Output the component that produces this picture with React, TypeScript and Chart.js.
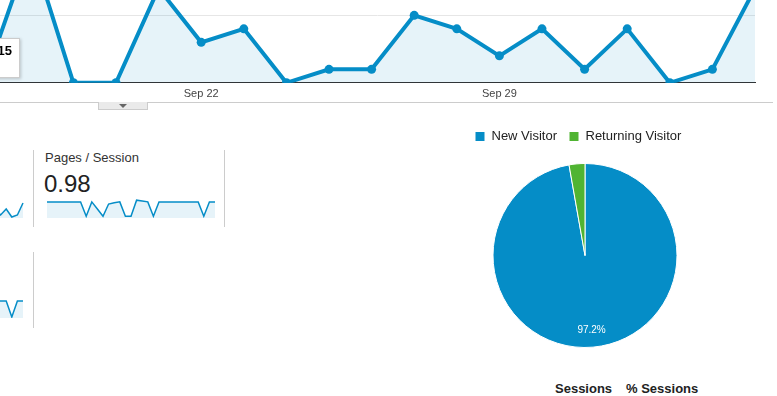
import React, { useEffect, useRef } from 'react';
import { Chart, registerables } from 'chart.js';

Chart.register(...registerables);

const FONT = "Arial, 'Liberation Sans', sans-serif";
const BLUE = '#058dc7';
const AREA = 'rgba(5,141,199,0.1)';
const GREEN = '#50b432';

// Main chart: sessions per day (Sep 17 – Oct 5, 2015)
const sessionDates = ['Sep 17', 'Sep 18', 'Sep 19', 'Sep 20', 'Sep 21', 'Sep 22', 'Sep 23', 'Sep 24', 'Sep 25', 'Sep 26', 'Sep 27', 'Sep 28', 'Sep 29', 'Sep 30', 'Oct 1', 'Oct 2', 'Oct 3', 'Oct 4', 'Oct 5'];
const sessionValues = [1, 10, 0, 0, 7, 3, 4, 0, 1, 1, 5, 4, 2, 4, 1, 4, 0, 1, 7];
const axisTickIndices = [5, 12];
const axisTickLabels = ['Sep 22', 'Sep 29'];
const gridValues = [0, 5];

// Pages / Session sparkline (Sep 5 – Oct 5)
const pagesPerSession = [1, 1, 1, 1, 1, 1, 1, 0, 1, 0.5, 0, 0.85, 0.94, 1, 0, 0, 1.12, 1.06, 1, 0, 1, 1, 1, 1, 1, 1, 1, 1, 0, 1, 1];
// tails of the neighbouring sparklines (Sep 30 – Oct 5)
const sessionsSparkTail = [4, 1, 4, 0, 1, 7];
const secondRowSparkTail = [1, 1, 1, 0, 1, 1];

// Pie
const visitorTypes = ['New Visitor', 'Returning Visitor'];
const visitorSessions = [35, 1];
const visitorColors = [BLUE, GREEN];

type SparkProps = {
  values: number[];
  left: number; top: number; width: number; height: number;
  xMin: number; xMax: number; yMin: number; yMax: number;
  pad?: { left: number; right: number; top: number; bottom: number };
};

function Spark(p: SparkProps) {
  const ref = useRef<HTMLCanvasElement>(null);
  useEffect(() => {
    const chart = new Chart(ref.current!, {
      type: 'line',
      data: {
        datasets: [{
          data: p.values.map((v, i) => ({ x: i, y: v })),
          borderColor: BLUE,
          borderWidth: 1.5,
          backgroundColor: AREA,
          fill: 'start',
          pointRadius: 0,
          tension: 0,
          clip: 3,
        }],
      },
      options: {
        animation: false,
        responsive: false,
        events: [],
        layout: { padding: p.pad || 0, autoPadding: false },
        plugins: { legend: { display: false }, tooltip: { enabled: false } },
        scales: {
          x: { type: 'linear', display: false, min: p.xMin, max: p.xMax },
          y: { display: false, min: p.yMin, max: p.yMax },
        },
      },
    });
    return () => chart.destroy();
  }, []);
  return (
    <canvas ref={ref} width={p.width} height={p.height}
      style={{ position: 'absolute', left: p.left, top: p.top, width: p.width, height: p.height }} />
  );
}

function MainChart() {
  const ref = useRef<HTMLCanvasElement>(null);
  useEffect(() => {
    const chart = new Chart(ref.current!, {
      type: 'line',
      data: {
        labels: sessionDates,
        datasets: [{
          label: 'Sessions',
          data: sessionValues.map((v, i) => ({ x: i, y: v })),
          borderColor: BLUE,
          borderWidth: 4,
          backgroundColor: AREA,
          fill: 'origin',
          pointRadius: 4.5,
          pointBorderWidth: 0,
          pointBackgroundColor: BLUE,
          tension: 0,
        }],
      },
      options: {
        animation: false,
        responsive: false,
        events: [],
        layout: { padding: { left: 0, right: 22, top: 0, bottom: 0 }, autoPadding: false },
        plugins: { legend: { display: false }, tooltip: { enabled: false } },
        scales: {
          x: {
            type: 'linear',
            min: 0.277,
            max: 18,
            afterBuildTicks: (s: any) => { s.ticks = axisTickIndices.map((v) => ({ value: v })); },
            grid: { display: false, drawTicks: false },
            border: { display: true, color: '#333', width: 1 },
            ticks: {
              autoSkip: false,
              maxRotation: 0,
              padding: 5,
              color: '#444',
              font: { family: FONT, size: 11 },
              callback: (v: any) => {
                const k = axisTickIndices.indexOf(Number(v));
                return k >= 0 ? axisTickLabels[k] : '';
              },
            },
          },
          y: {
            min: 0,
            max: 6.14,
            afterBuildTicks: (s: any) => { s.ticks = gridValues.map((v) => ({ value: v })); },
            grid: { color: '#e6e6e6', drawTicks: false },
            border: { display: false },
            ticks: { display: false },
          },
        },
      },
    });
    return () => chart.destroy();
  }, []);
  return <canvas ref={ref} width={777} height={106}
    style={{ position: 'absolute', left: 0, top: 0, width: 777, height: 106 }} />;
}

const pieLabelPlugin = {
  id: 'pieLabels',
  afterDatasetsDraw(chart: any) {
    const meta = chart.getDatasetMeta(0);
    const vals: number[] = chart.data.datasets[0].data;
    const total = vals.reduce((a, b) => a + b, 0);
    const ctx = chart.ctx;
    ctx.save();
    ctx.fillStyle = '#fff';
    ctx.font = `10px ${FONT}`;
    ctx.textAlign = 'center';
    ctx.textBaseline = 'middle';
    meta.data.forEach((arc: any, i: number) => {
      const pct = (vals[i] / total) * 100;
      if (pct < 5) return;
      const { x, y, startAngle, endAngle, outerRadius } = arc.getProps(['x', 'y', 'startAngle', 'endAngle', 'outerRadius'], true);
      const mid = (startAngle + endAngle) / 2;
      const r = outerRadius * 0.82;
      ctx.fillText(pct.toFixed(1) + '%', x + Math.cos(mid) * r, y + Math.sin(mid) * r);
    });
    ctx.restore();
  },
};

function PieChart() {
  const ref = useRef<HTMLCanvasElement>(null);
  useEffect(() => {
    const chart = new Chart(ref.current!, {
      type: 'pie',
      data: {
        labels: visitorTypes,
        datasets: [{
          data: visitorSessions,
          backgroundColor: visitorColors,
          borderColor: '#fff',
          borderWidth: 1,
          radius: 92,
        } as any],
      },
      options: {
        animation: false,
        responsive: false,
        events: [],
        plugins: {
          tooltip: { enabled: false },
          legend: {
            position: 'top',
            align: 'start',
            labels: {
              boxWidth: 10,
              boxHeight: 10,
              padding: 12,
              color: '#222',
              font: { family: FONT, size: 13 },
            },
          },
        },
      },
      plugins: [pieLabelPlugin],
    });
    return () => chart.destroy();
  }, []);
  // legend height = 13 + 12 + 10 = 35; chart area 153..357 centred on 255
  return <canvas ref={ref} width={244} height={240}
    style={{ position: 'absolute', left: 463, top: 118, width: 244, height: 240 }} />;
}

const abs = (s: React.CSSProperties): React.CSSProperties => ({ position: 'absolute', ...s });

export default function App() {
  return (
    <div style={abs({ left: 0, top: 0, width: 777, height: 396, overflow: 'hidden', background: '#fff', fontFamily: FONT })}>
      <MainChart />
      {/* tooltip remnant */}
      <div style={abs({
        left: -200, top: 38, width: 220, height: 40, background: '#fff', border: '1px solid #ccc',
        boxShadow: '1px 1px 3px rgba(0,0,0,0.2)', boxSizing: 'border-box', textAlign: 'right', paddingRight: 7,
        paddingTop: 4, font: `bold 13px ${FONT}`, color: '#000', whiteSpace: 'nowrap', lineHeight: '15px',
      })}>Thursday, September 17, 2015</div>
      {/* divider and tab */}
      <div style={abs({ left: 0, top: 102, width: 773, height: 1, background: '#ccc' })} />
      <div style={abs({
        left: 98, top: 102, width: 50, height: 8, background: '#eaeaea', border: '1px solid #ccc', borderTop: 'none',
        boxSizing: 'border-box',
      })} />
      <div style={abs({ left: 119, top: 104, width: 0, height: 0, borderLeft: '4px solid transparent', borderRight: '4px solid transparent', borderTop: '4px solid #666' })} />

      {/* metric separators */}
      <div style={abs({ left: 33, top: 150, width: 1, height: 77, background: '#ccc' })} />
      <div style={abs({ left: 224, top: 150, width: 1, height: 77, background: '#ccc' })} />
      <div style={abs({ left: 33, top: 252, width: 1, height: 76, background: '#ccc' })} />

      <div style={abs({ left: 45, top: 151, font: `13px ${FONT}`, lineHeight: '13px', color: '#333', whiteSpace: 'nowrap' })}>Pages / Session</div>
      <div style={abs({ left: 44, top: 172, font: `24px ${FONT}`, lineHeight: '24px', color: '#222' })}>0.98</div>

      <Spark values={pagesPerSession} left={45} top={198} width={172} height={21}
        xMin={0} xMax={30} yMin={-0.12} yMax={1.2} pad={{ left: 2, right: 2, top: 1, bottom: 1 }} />
      <Spark values={sessionsSparkTail} left={0} top={199} width={24} height={19}
        xMin={0.893} xMax={5.179} yMin={-0.5} yMax={9} />
      <Spark values={secondRowSparkTail} left={0} top={299} width={24} height={19}
        xMin={0.893} xMax={5.179} yMin={-0.0625} yMax={1.125} />

      <PieChart />

      <div style={abs({ left: 555, top: 382, font: `bold 13px ${FONT}`, lineHeight: '13px', color: '#222', whiteSpace: 'nowrap' })}>Sessions</div>
      <div style={abs({ left: 626, top: 382, font: `bold 13px ${FONT}`, lineHeight: '13px', color: '#222', whiteSpace: 'nowrap' })}>% Sessions</div>
    </div>
  );
}
